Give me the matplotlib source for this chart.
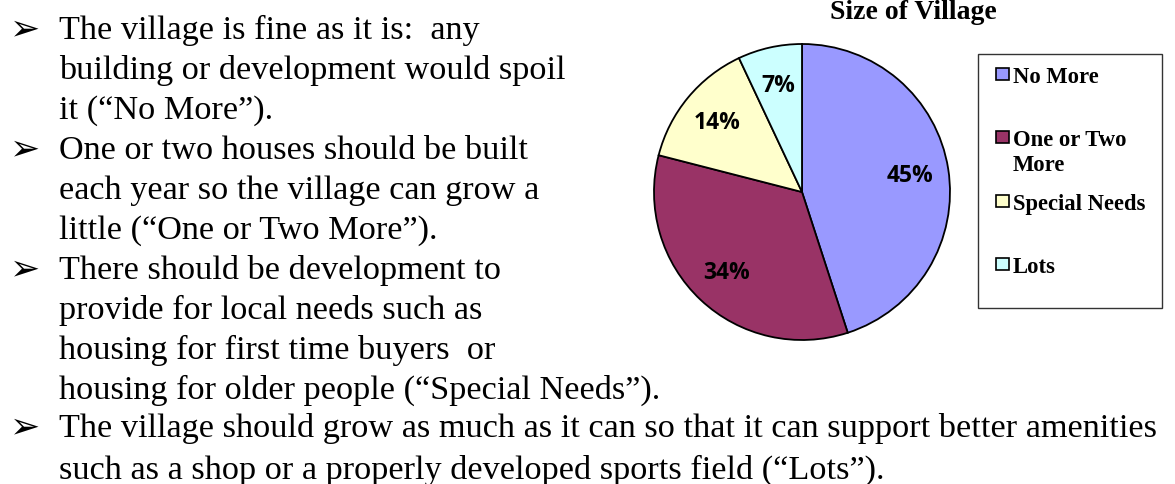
import matplotlib
matplotlib.use("Agg")
import matplotlib.pyplot as plt
from matplotlib.patches import Rectangle

categories = ["No More", "One or Two\nMore", "Special Needs", "Lots"]
shares = [45, 34, 14, 7]
colours = ["#9999FF", "#993366", "#FFFFCC", "#CCFFFF"]
title = "Size of Village"

bullets = [
    ["The village is fine as it is:  any",
     "building or development would spoil",
     "it (\u201cNo More\u201d)."],
    ["One or two houses should be built",
     "each year so the village can grow a",
     "little (\u201cOne or Two More\u201d)."],
    ["There should be development to",
     "provide for local needs such as",
     "housing for first time buyers  or",
     "housing for older people (\u201cSpecial Needs\u201d)."],
    ["The village should grow as much as it can so that it can support better amenities",
     "such as a shop or a properly developed sports field (\u201cLots\u201d)."],
]

W, H = 1175, 485
fig = plt.figure(figsize=(W / 100, H / 100), dpi=100)


def fx(x):
    return x / W


def fy(y):
    return 1 - y / H


serif = ["Liberation Serif", "DejaVu Serif"]

# left hand text
line = 0
for i, para in enumerate(bullets):
    if i < 3:
        base = 39 + 40 * line
        step = 40
    else:
        base = 437
        step = 42
    fig.text(fx(10), fy(base), "\u27a2", fontsize=26, family="DejaVu Sans",
             va="baseline", ha="left")
    for j, t in enumerate(para):
        fig.text(fx(59), fy(base + step * j), t, fontsize=24.7, family=serif,
                 va="baseline", ha="left")
    line += len(para)

# pie
cx, cy, r = 802, 193, 148
pad = 1.05
ax = fig.add_axes([fx(cx - r * pad), fy(cy + r * pad), 2 * r * pad / W, 2 * r * pad / H])
wedges, texts, autotexts = ax.pie(
    shares, colors=colours, startangle=90, counterclock=False,
    autopct="%1.0f%%", pctdistance=0.74,
    wedgeprops=dict(edgecolor="black", linewidth=1.3),
    textprops=dict(fontsize=16.5, fontweight="bold", family="Open Sans", color="black"))
ax.set_xlim(-pad, pad)
ax.set_ylim(-pad, pad)
ax.set_aspect("auto")

fig.text(fx(913), fy(19), title, fontsize=20, fontweight="bold", family=serif,
         ha="center", va="baseline")

# legend
box = Rectangle((fx(978), fy(309)), fx(1162 - 978), (309 - 55) / H,
                transform=fig.transFigure, facecolor="white", edgecolor="#333333",
                linewidth=1.0)
fig.patches.append(box)
for i, (name, c) in enumerate(zip(categories, colours)):
    base = 83 + 63.3 * i
    sq = Rectangle((fx(996), fy(base - 2)), fx(13), 12 / H, transform=fig.transFigure,
                   facecolor=c, edgecolor="black", linewidth=1.2)
    fig.patches.append(sq)
    for k, part in enumerate(name.split("\n")):
        fig.text(fx(1013), fy(base + 25 * k), part, fontsize=16.3, fontweight="bold",
                 family=serif, va="baseline", ha="left")

fig.savefig("out.png", dpi=100)
